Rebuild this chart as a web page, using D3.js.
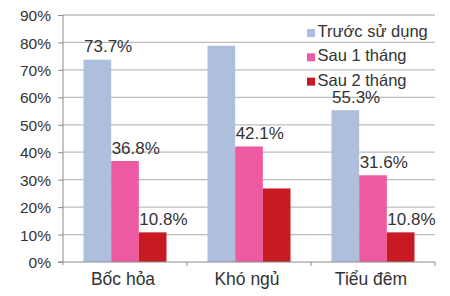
<!DOCTYPE html>
<html><head><meta charset="utf-8">
<script src="https://cdn.jsdelivr.net/npm/d3@7"></script>
<style>body{margin:0;background:#fff}svg{display:block}text{font-family:"Liberation Sans",Arial,sans-serif;fill:#333}</style>
</head><body><svg id="c" width="450" height="296"></svg>
<script>
const categories = ["Bốc hỏa", "Khó ngủ", "Tiểu đêm"];
const seriesNames = ["Trước sử dụng", "Sau 1 tháng", "Sau 2 tháng"];
const before = [73.7, 78.8, 55.3];
const after1 = [36.8, 42.1, 31.6];
const after2 = [10.8, 26.8, 10.8];
const labelsBefore = ["73.7%", null, "55.3%"];
const labelsAfter1 = ["36.8%", "42.1%", "31.6%"];
const labelsAfter2 = ["10.8%", null, "10.8%"];
const yTicks = [0, 10, 20, 30, 40, 50, 60, 70, 80, 90];
const colors = ["#adbfdd", "#ee5aa1", "#c81a22"];

const series = [before, after1, after2];
const labels = [labelsBefore, labelsAfter1, labelsAfter2];

const svg = d3.select("#c");
const mLeft = 63, mRight = 435, mTop = 15, mBottom = 262;
const x = d3.scaleBand().domain(categories).range([mLeft, mRight]);
const xs = d3.scaleBand().domain(d3.range(3)).range([20.5, 103.5]);
const y = d3.scaleLinear().domain([0, 90]).range([mBottom, mTop]);

// gridlines
svg.append("g").selectAll("line").data(yTicks.filter(d => d > 0)).join("line")
  .attr("x1", mLeft).attr("x2", mRight)
  .attr("y1", d => y(d)).attr("y2", d => y(d))
  .attr("stroke", "#bdbdbd").attr("stroke-width", 1.3);

// y axis
const yAxis = d3.axisLeft(y).tickValues(yTicks).tickFormat(d => d + "%").tickSize(5).tickPadding(7);
const gy = svg.append("g").attr("transform", `translate(${mLeft},0)`).call(yAxis);
gy.select(".domain").attr("stroke", "#8a8a8a").attr("d", `M0,${mTop}V${mBottom + 3}`);
gy.selectAll(".tick line").attr("stroke", "#8a8a8a");
gy.selectAll(".tick text").style("font-size", "15.5px").attr("fill", "#3a3a3a").attr("dy", "0.36em");

// bars
const bars = svg.append("g");
series.forEach((vals, si) => {
  bars.selectAll(null).data(vals).join("rect")
    .attr("x", (d, i) => x(categories[i]) + xs(si))
    .attr("width", xs.bandwidth())
    .attr("y", d => y(d))
    .attr("height", d => y(0) - y(d))
    .attr("fill", colors[si]);
});

// x axis
const gx = svg.append("g").attr("transform", `translate(0,${mBottom})`);
gx.append("line").attr("x1", mLeft - 5).attr("x2", mRight).attr("stroke", "#8a8a8a");
gx.selectAll("line.t").data([mLeft + x.bandwidth(), mLeft + 2 * x.bandwidth(), mRight]).join("line")
  .attr("class", "t").attr("x1", d => d).attr("x2", d => d).attr("y1", 0).attr("y2", 4).attr("stroke", "#8a8a8a");
gx.selectAll("text").data(categories).join("text")
  .attr("x", d => x(d) + x.bandwidth() / 2 - 2).attr("y", 23)
  .attr("text-anchor", "middle").style("font-size", "17.5px").text(d => d);

// value labels
series.forEach((vals, si) => {
  svg.append("g").selectAll("text").data(vals.map((v, i) => ({v, i, l: labels[si][i]})).filter(d => d.l)).join("text")
    .attr("x", d => x(categories[d.i]) + xs(si) + 0.5)
    .attr("y", d => y(d.v) - 7.5)
    .style("font-size", "17px").text(d => d.l);
});

// legend
const lg = svg.append("g").attr("transform", "translate(307,0)");
seriesNames.forEach((n, i) => {
  const by = 37 + i * 24.3;
  lg.append("rect").attr("x", 0).attr("y", by - 8).attr("width", 8).attr("height", 8).attr("fill", colors[i]);
  lg.append("text").attr("x", 10.5).attr("y", by).style("font-size", "16.5px").text(n);
});
</script></body></html>
